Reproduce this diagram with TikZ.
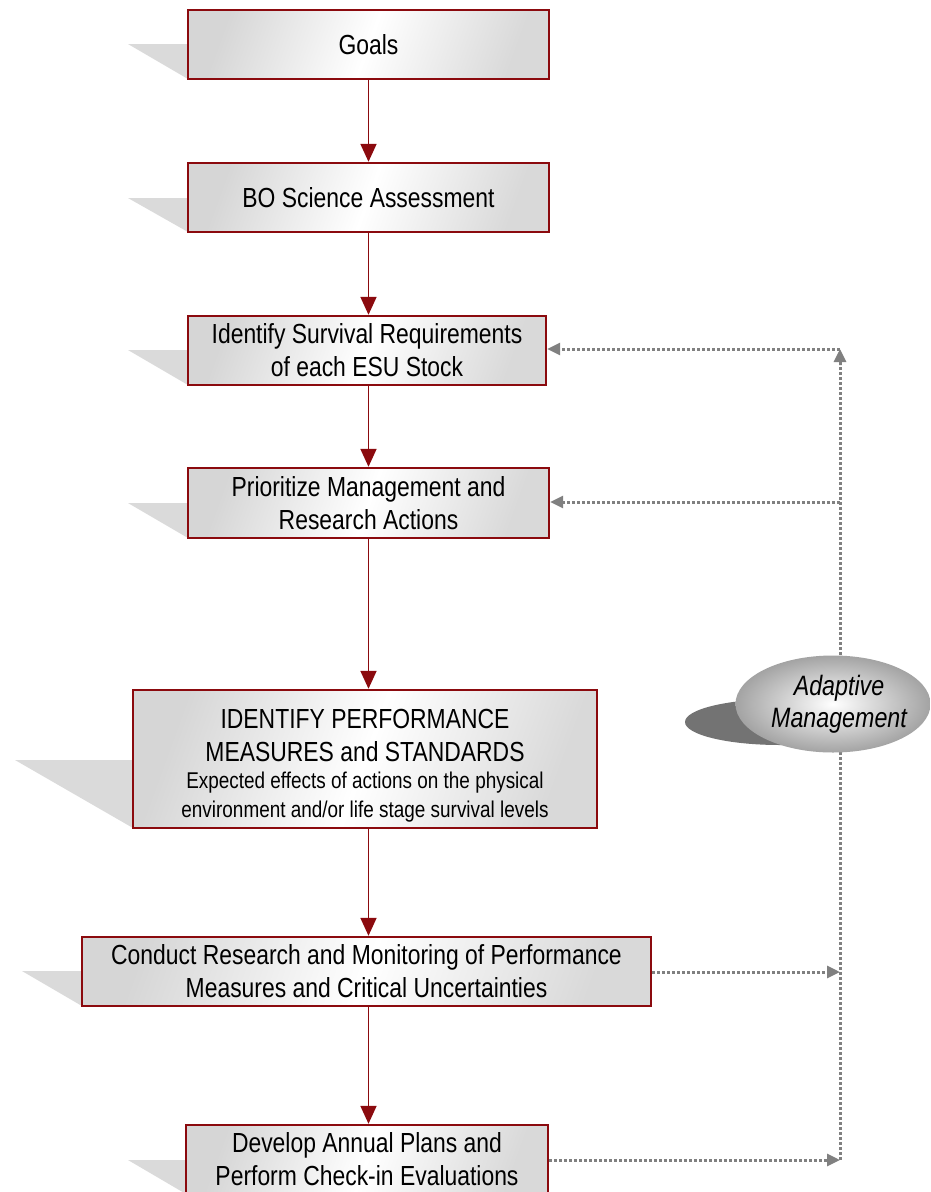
\documentclass[tikz,border=0pt]{standalone}
\usepackage{fontspec}
\setmainfont{Liberation Sans}[FakeStretch=0.83]
\usetikzlibrary{arrows.meta,shapes.geometric}
\definecolor{boxred}{RGB}{139,10,14}
\definecolor{shadowgray}{RGB}{218,218,218}
\definecolor{dotgray}{RGB}{128,128,128}
\tikzset{
  box/.style={rectangle, draw=boxred, line width=2.4pt, inner sep=0pt, align=center,
    left color=black!16, right color=black!15, middle color=white, shading angle=70,
    font=\fontsize{27.6}{33}\selectfont},
  redarrow/.style={draw=boxred, line width=1.8pt, -{Triangle[width=16pt,length=18pt]}},
  dotarrow/.style={draw=dotgray, line width=3pt, dash pattern=on 3pt off 2pt, -{Triangle[width=12pt,length=13pt]}},
  dotline/.style={draw=dotgray, line width=3pt, dash pattern=on 3pt off 2pt},
}
\begin{document}
\begin{tikzpicture}[x=1pt,y=-1pt]
\clip (0,0) rectangle (931,1192);
\fill[white] (0,0) rectangle (931,1192);
% shadows
\fill[shadowgray] (128,44) -- (188,44) -- (188,79) -- cycle;
\fill[shadowgray] (128,198) -- (188,198) -- (188,232) -- cycle;
\fill[shadowgray] (128,350) -- (188,350) -- (188,385) -- cycle;
\fill[shadowgray] (128,503) -- (188,503) -- (188,538) -- cycle;
\fill[shadowgray] (15,760) -- (133,760) -- (133,828) -- cycle;
\fill[shadowgray] (22,971) -- (82,971) -- (82,1006) -- cycle;
\fill[shadowgray] (128,1160) -- (186,1160) -- (186,1194) -- cycle;
% boxes
\node[box, minimum width=361pt, minimum height=69pt] (goals) at (368.5,44.5) {Goals};
\node[box, minimum width=361pt, minimum height=69pt] (bo) at (368.5,197.5) {BO Science Assessment};
\node[box, minimum width=358pt, minimum height=69pt] (surv) at (367,350.5) {Identify Survival Requirements\\of each ESU Stock};
\node[box, minimum width=361pt, minimum height=70pt] (prio) at (368.5,503) {Prioritize Management and\\Research Actions};
\node[box, minimum width=464pt, minimum height=138pt] (perf) at (365,759) {\rule{0pt}{32pt}IDENTIFY PERFORMANCE\\MEASURES and STANDARDS\\[-6pt]
  {\fontsize{22.8}{28}\selectfont Expected effects of actions on the physical}\\[-4pt]
  {\fontsize{22.8}{28}\selectfont environment and/or life stage survival levels}};
\node[box, minimum width=569pt, minimum height=69pt] (cond) at (366.5,971.5) {Conduct Research and Monitoring of Performance\\Measures and Critical Uncertainties};
\node[box, minimum width=362pt, minimum height=69pt] (dev) at (367,1159.5) {Develop Annual Plans and\\Perform Check-in Evaluations};
% red arrows
\draw[redarrow] (goals.south) -- (bo.north);
\draw[redarrow] (bo.south) -- (bo.south |- surv.north);
\draw[redarrow] (bo.south |- surv.south) -- (bo.south |- prio.north);
\draw[redarrow] (prio.south) -- (prio.south |- perf.north);
\draw[redarrow] (prio.south |- perf.south) -- (prio.south |- cond.north);
\draw[redarrow] (prio.south |- cond.south) -- (prio.south |- dev.north);
% adaptive management feedback
\coordinate (ctop) at (840,349);
\coordinate (cprio) at (840,502);
\coordinate (ccond) at (840,972);
\coordinate (cdev) at (840,1160);
\draw[dotline] (cdev) -- (840,365);
\draw[dotarrow] (840,380) -- (ctop);
\draw[dotarrow] (ctop) -- (surv.east |- ctop);
\draw[dotarrow] (cprio) -- (prio.east |- cprio);
\draw[dotarrow] (cond.east |- ccond) -- (ccond);
\draw[dotarrow] (dev.east |- cdev) -- (cdev);
% ellipse
\fill[black!55] (780,722) ellipse [x radius=95, y radius=23];
\node[ellipse, minimum width=195pt, minimum height=97pt, inner sep=0pt,
  inner color=white, outer color=black!36, align=center,
  font=\fontsize{28}{32}\selectfont\itshape] (am) at (833,704)
  {\makebox[100pt]{\hspace*{12pt}Adaptive}\\\makebox[100pt]{\hspace*{12pt}Management}};
\end{tikzpicture}
\end{document}
